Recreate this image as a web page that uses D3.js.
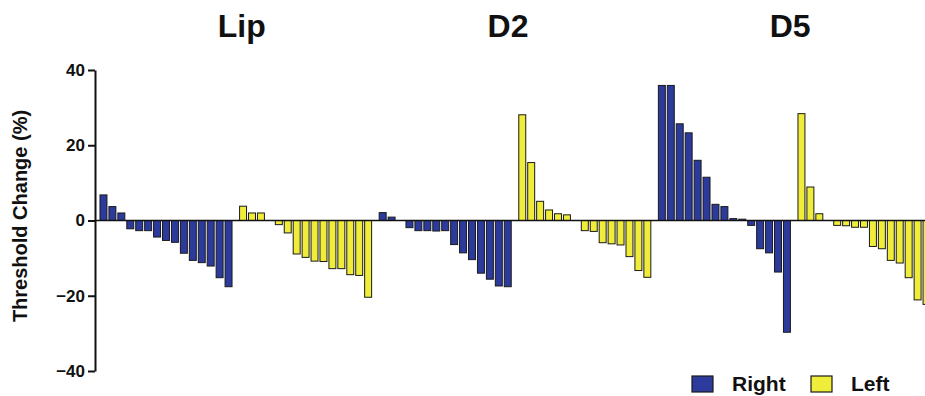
<!DOCTYPE html>
<html>
<head>
<meta charset="utf-8">
<script src="https://cdn.jsdelivr.net/npm/d3@7"></script>
<style>
  body { margin: 0; background: #fff; }
  svg { display: block; font-family: "Liberation Sans", Arial, sans-serif; }
</style>
</head>
<body>
<div id="chart"></div>
<script>
// data
const groups = ["Lip", "D2", "D5"];
const sides = ["Right", "Left"];
const yTicks = [-40, -20, 0, 20, 40];

const lipRight = [6.8, 3.7, 2.0, -2.2, -2.7, -2.7, -4.4, -5.3, -5.8, -8.7, -10.6, -11.2, -12.1, -15.2, -17.6];
const lipLeft  = [3.8, 2.0, 2.0, 0, -1.1, -3.3, -8.9, -9.8, -10.8, -10.9, -12.8, -12.8, -14.4, -14.6, -20.4];
const d2Right  = [2.1, 0.9, 0, -1.9, -2.7, -2.7, -2.8, -2.7, -6.4, -8.6, -10.4, -14.0, -15.6, -17.4, -17.6];
const d2Left   = [28.1, 15.4, 5.1, 2.8, 1.8, 1.5, 0, -2.7, -2.9, -5.9, -6.2, -6.5, -9.6, -13.3, -15.1];
const d5Right  = [35.9, 35.9, 25.7, 23.3, 16.0, 11.5, 4.3, 3.7, 0.5, 0.35, -1.3, -7.5, -8.6, -13.7, -29.7];
const d5Left   = [28.4, 8.9, 1.8, 0, -1.3, -1.4, -1.8, -1.8, -6.9, -7.5, -10.6, -11.3, -15.2, -21.1, -22.3];

const colors = { Right: "#2c3a9c", Left: "#f0ec3a" };

const series = [
    { group: "Lip", side: "Right", values: lipRight },
    { group: "Lip", side: "Left", values: lipLeft },
    { group: "D2", side: "Right", values: d2Right },
    { group: "D2", side: "Left", values: d2Left },
    { group: "D5", side: "Right", values: d5Right },
    { group: "D5", side: "Left", values: d5Left }
];
series.forEach(s => s.key = s.group + "-" + s.side);

var width = 925;
var height = 396;
var axisX = 95;

var svg = d3.select("#chart")
    .append("svg")
    .attr("width", width)
    .attr("height", height);

var y = d3.scaleLinear()
    .domain([-40, 40])
    .range([371, 70]);

var x0 = d3.scaleBand()
    .domain(series.map(d => d.key))
    .range([99, 931])
    .paddingInner(0.04)
    .paddingOuter(0);

var x1 = d3.scaleBand()
    .domain(d3.range(15))
    .range([0, x0.bandwidth()])
    .paddingInner(0.22)
    .paddingOuter(0.11);

// bars
var g = svg.selectAll("g.series")
    .data(series)
    .enter()
    .append("g")
    .attr("class", "series")
    .attr("transform", d => "translate(" + x0(d.key) + ",0)");

g.selectAll("rect")
    .data(d => d.values.map((v, i) => ({ i: i, v: v, side: d.side })))
    .enter()
    .append("rect")
    .attr("x", d => x1(d.i))
    .attr("y", d => y(Math.max(0, d.v)))
    .attr("width", x1.bandwidth())
    .attr("height", d => Math.abs(y(d.v) - y(0)))
    .attr("fill", d => colors[d.side])
    .attr("stroke", "#1a1a1a")
    .attr("stroke-width", 1);

// zero line
svg.append("line")
    .attr("x1", axisX)
    .attr("x2", width)
    .attr("y1", y(0))
    .attr("y2", y(0))
    .attr("stroke", "#111")
    .attr("stroke-width", 1.5);

// y axis
var yAxis = svg.append("g")
    .attr("transform", "translate(" + axisX + ",0)")
    .call(d3.axisLeft(y).tickValues(yTicks).tickSize(7).tickSizeOuter(0).tickPadding(3));
yAxis.select(".domain").attr("stroke", "#111").attr("stroke-width", 2);
yAxis.selectAll(".tick line").attr("stroke", "#111").attr("stroke-width", 2);
yAxis.selectAll("text")
    .style("font-size", "17px")
    .style("font-weight", "bold")
    .attr("fill", "#111");

svg.append("text")
    .attr("transform", "translate(27,216) rotate(-90)")
    .style("text-anchor", "middle")
    .style("font-size", "20px")
    .style("font-weight", "bold")
    .attr("fill", "#111")
    .text("Threshold Change (%)");

// group titles, around the gap between Right and Left
var titleShift = [6, -7, -4];
svg.selectAll("text.title")
    .data(groups)
    .enter()
    .append("text")
    .attr("class", "title")
    .attr("x", (d, i) => (x0(d + "-Right") + x0.bandwidth() + x0(d + "-Left")) / 2 + titleShift[i])
    .attr("y", 37)
    .style("text-anchor", "middle")
    .style("font-size", "32px")
    .style("font-weight", "bold")
    .attr("fill", "#111")
    .text(d => d);

// legend
var legendX = [692, 811];
var legend = svg.selectAll("g.legend")
    .data(sides)
    .enter()
    .append("g")
    .attr("class", "legend")
    .attr("transform", (d, i) => "translate(" + legendX[i] + ",376)");

legend.append("rect")
    .attr("width", 21)
    .attr("height", 16)
    .attr("fill", d => colors[d])
    .attr("stroke", "#1a1a1a")
    .attr("stroke-width", 1.2);

legend.append("text")
    .attr("x", 40)
    .attr("y", 15)
    .style("font-size", "21px")
    .style("font-weight", "bold")
    .attr("fill", "#111")
    .text(d => d);
</script>
</body>
</html>
